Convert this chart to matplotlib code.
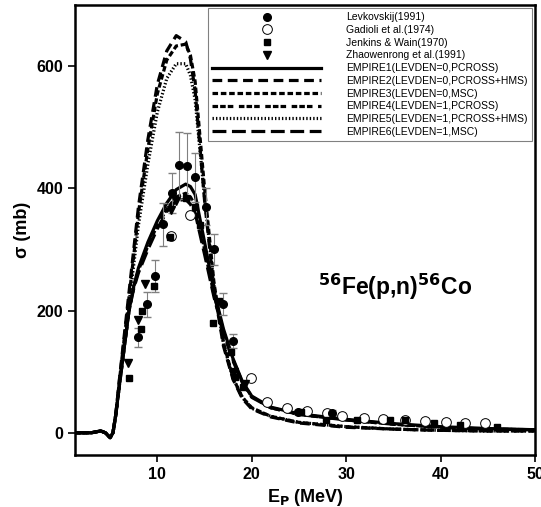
import numpy as np
import matplotlib.pyplot as plt
from matplotlib.lines import Line2D

plt.rcParams['font.family'] = ['Liberation Sans', 'DejaVu Sans']
plt.rcParams['lines.scale_dashes'] = False

# Curvas EMPIRE (energia em MeV, secao de choque em mb)
e_calc = [1.3, 3, 4, 4.5, 5.0, 5.3, 5.6, 6.0, 6.5, 7.0, 7.5, 8, 9, 10, 11, 12, 13, 13.5,
          14, 15, 16, 17, 18, 19, 20, 22, 25, 30, 35, 40, 45, 50]
empire1 = [0, 0, 3, 0, -8, 0, 30, 80, 140, 200, 240, 270, 312, 347, 376, 398, 407, 403,
           390, 312, 232, 170, 122, 84, 60, 42, 31, 22, 15, 10, 7, 5]
empire2 = [0, 0, 3, 0, -8, 0, 30, 90, 160, 230, 300, 370, 480, 570, 625, 650, 640, 612,
           560, 380, 235, 142, 88, 56, 39, 26, 16, 9, 6, 4, 3, 3]
empire3 = [0, 0, 3, 0, -8, 0, 30, 88, 155, 222, 290, 360, 465, 555, 610, 633, 636, 618,
           575, 400, 245, 148, 90, 58, 41, 27, 17, 10, 6, 4, 3, 3]
empire4 = [0, 0, 3, 0, -8, 0, 30, 80, 140, 200, 238, 266, 306, 340, 366, 386, 392, 386,
           372, 300, 226, 166, 120, 83, 59, 41, 30, 21, 14, 9, 6, 5]
empire5 = [0, 0, 3, 0, -8, 0, 28, 82, 148, 212, 275, 340, 440, 525, 580, 604, 604, 585,
           545, 385, 240, 146, 90, 58, 40, 27, 17, 10, 6, 4, 3, 3]
empire6 = [0, 0, 3, 0, -8, 0, 30, 80, 140, 200, 236, 262, 300, 334, 362, 380, 382, 374,
           360, 292, 222, 164, 118, 82, 58, 41, 30, 21, 14, 9, 6, 5]

# Dados experimentais
lev_e = [8.0, 8.9, 9.8, 10.6, 11.6, 12.3, 13.1, 14.0, 15.1, 16.0, 17.0, 18.0, 24.9, 28.5]
lev_s = [156, 210, 257, 341, 392, 438, 436, 418, 370, 300, 210, 150, 34, 33]
lev_err = [15, 20, 26, 35, 33, 55, 55, 40, 30, 25, 18, 12, 4, 4]

gad_e = [11.4, 13.5, 19.9, 21.6, 23.7, 25.8, 28.0, 29.6, 31.9, 33.9, 36.2, 38.3, 40.6,
         42.6, 44.7]
gad_s = [322, 357, 90, 51, 41, 36, 33, 28, 25, 23, 21, 20, 18, 16, 16]

jen_e = [7.0, 8.3, 8.4, 9.6, 11.3, 13.0, 14.0, 14.5, 15.9, 16.5, 17.8, 18.2, 19.1, 25.2,
         27.9, 31.1, 34.6, 36.2, 39.3, 42.0, 46.0]
jen_s = [90, 170, 200, 241, 320, 385, 370, 340, 180, 215, 133, 92, 75, 34, 21, 21, 21,
         21, 16, 12, 9]

zha_e = [6.9, 7.9, 8.7, 11.4, 12.0, 18.1, 19.3]
zha_s = [115, 185, 244, 365, 380, 100, 80]

fig = plt.figure(figsize=(5.41, 5.07), dpi=100)
ax = fig.add_axes([0.139, 0.103, 0.85, 0.887])

handles = []
ax.errorbar(lev_e, lev_s, yerr=lev_err, fmt='o', color='black', ms=5.5,
            ecolor='gray', elinewidth=0.8, capsize=3, zorder=3)
handles.append(Line2D([], [], ls='none', marker='o', color='black', ms=5.5,
                      label='Levkovskij(1991)'))
handles += ax.plot(gad_e, gad_s, 'o', mfc='white', mec='black', mew=0.7, ms=7,
                   label='Gadioli et al.(1974)', zorder=3)
handles += ax.plot(jen_e, jen_s, 's', color='black', ms=5, label='Jenkins & Wain(1970)',
                   zorder=3)
handles += ax.plot(zha_e, zha_s, 'v', color='black', ms=5.5,
                   label='Zhaowenrong et al.(1991)', zorder=3)

lw = 2.3
handles += ax.plot(e_calc, empire1, color='black', lw=lw, label='EMPIRE1(LEVDEN=0,PCROSS)')
handles += ax.plot(e_calc, empire2, color='black', lw=lw, dashes=(7, 4),
                   label='EMPIRE2(LEVDEN=0,PCROSS+HMS)')
handles += ax.plot(e_calc, empire3, color='black', lw=lw, dashes=(4, 2),
                   label='EMPIRE3(LEVDEN=0,MSC)')
handles += ax.plot(e_calc, empire4, color='black', lw=lw, dashes=(4, 1.5, 4, 1.5, 4, 4),
                   label='EMPIRE4(LEVDEN=1,PCROSS)')
handles += ax.plot(e_calc, empire5, color='black', lw=lw, dashes=(1, 1.5),
                   label='EMPIRE5(LEVDEN=1,PCROSS+HMS)')
handles += ax.plot(e_calc, empire6, color='black', lw=lw, dashes=(10, 4),
                   label='EMPIRE6(LEVDEN=1,MSC)')

ax.set_xlim(1.3, 50)
ax.set_ylim(-36, 700)
ax.set_xticks([10, 20, 30, 40, 50])
ax.set_yticks([0, 200, 400, 600])
ax.tick_params(direction='out', length=5, width=1.2, top=False, right=False,
               labelsize=11.5)
for lab in ax.get_xticklabels() + ax.get_yticklabels():
    lab.set_fontweight('bold')
for sp in ax.spines.values():
    sp.set_linewidth(1.8)

ax.set_xlabel(r'E$_\mathbf{P}$ (MeV)', fontsize=13, fontweight='bold')
ax.set_ylabel('σ (mb)', fontsize=13, fontweight='bold')

ax.text(0.528, 0.355, r'$^{\mathbf{56}}$Fe(p,n)$^{\mathbf{56}}$Co', transform=ax.transAxes,
        fontsize=16.5, fontweight='bold')

leg = ax.legend(handles=handles, loc='upper right', fontsize=7.5, handlelength=10.5,
                handletextpad=2.4, labelspacing=0.26, borderaxespad=0.3, fancybox=False,
                framealpha=1, edgecolor='gray', numpoints=1)
leg.get_frame().set_linewidth(0.8)

plt.savefig('out.png', dpi=100)
